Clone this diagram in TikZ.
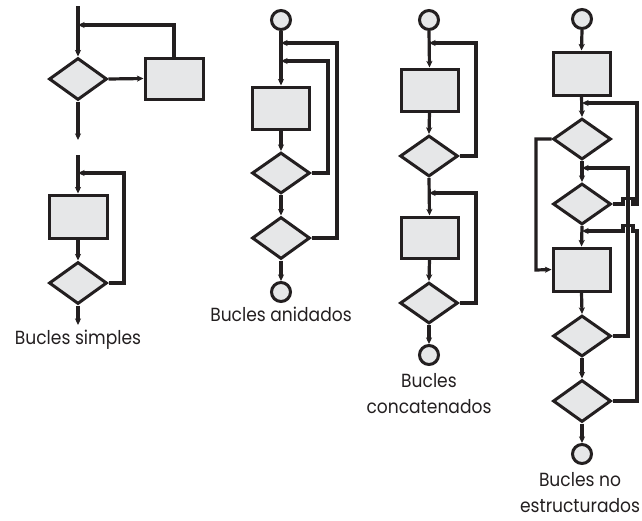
\documentclass[tikz,border=0pt]{standalone}
\usepackage{fontspec}
\setmainfont[FakeStretch=0.9]{Poppins}
\usetikzlibrary{shapes.geometric,arrows.meta}
\definecolor{ink}{HTML}{231F20}
\definecolor{boxfill}{HTML}{E6E7E8}
\begin{document}
\begin{tikzpicture}[x=1pt,y=-1pt,
  stepbox/.style={draw=ink,fill=boxfill,line width=3pt,rectangle,minimum width=57pt,minimum height=42pt,inner sep=0pt},
  decision/.style={draw=ink,fill=boxfill,line width=3pt,diamond,minimum width=58pt,minimum height=42pt,inner sep=0pt},
  term/.style={draw=ink,fill=boxfill,line width=3pt,circle,minimum size=19pt,inner sep=0pt},
  conn/.style={draw=ink,line width=3.2pt},
  arr/.style={conn,-{Stealth[length=6.5pt,width=6pt,inset=1.5pt]}},
  lbl/.style={font=\fontsize{19}{26}\selectfont,text=ink,align=center,inner sep=0pt}]
\useasboundingbox (0,0) rectangle (642,520);
% ---- Bucles simples (top)
\coordinate (t1) at (78,6);
\coordinate (j1) at (78,25);
\node[decision] (d1) at (78,79) {};
\node[stepbox,minimum width=58pt,minimum height=41pt] (b1) at (174,78.5) {};
\coordinate (e1) at (78,140);
\draw[arr] (t1) -- (d1.north);
\draw[arr] (b1.north) |- (j1);
\draw[arr] (d1.east) -- (b1.west);
\draw[arr] (d1.south) -- (e1);
% ---- Bucles simples (bottom)
\coordinate (t2) at (78,155);
\coordinate (j2) at (78,173);
\node[stepbox,minimum width=58pt,minimum height=43pt] (b2) at (78,216.5) {};
\node[decision] (d2) at (78,283) {};
\coordinate (r2) at (124,173);
\coordinate (e2) at (78,325);
\draw[arr] (t2) -- (b2.north);
\draw[arr] (b2.south) -- (d2.north);
\draw[arr] (d2.east) -| (r2) -- (j2);
\draw[arr] (d2.south) -- (e2);
\node[lbl] (l1) at (78,340) {Bucles simples};
% ---- Bucles anidados
\node[term] (c1) at (281,20) {};
\coordinate (ja) at (281,43);
\coordinate (jb) at (281,61);
\node[stepbox] (b3) at (281,108) {};
\node[decision,minimum height=41pt] (d3) at (281,173) {};
\node[decision] (d4) at (281,238) {};
\node[term] (c2) at (281,292) {};
\coordinate (ra) at (337,43);
\coordinate (rb) at (328,61);
\draw[arr] (c1.south) -- (b3.north);
\draw[arr] (b3.south) -- (d3.north);
\draw[arr] (d3.south) -- (d4.north);
\draw[arr] (d4.south) -- (c2.north);
\draw[arr] (d3.east) -| (rb) -- (jb);
\draw[arr] (d4.east) -| (ra) -- (ja);
\node[lbl] (l2) at (281,314) {Bucles anidados};
% ---- Bucles concatenados
\node[term] (c3) at (429,20) {};
\coordinate (ka) at (429,43);
\node[stepbox] (b4) at (429.5,90) {};
\node[decision,minimum height=41pt] (d5) at (429,156) {};
\coordinate (kb) at (429,193);
\node[stepbox,minimum height=41pt] (b5) at (429.5,237.5) {};
\node[decision,minimum height=41pt] (d6) at (429,303) {};
\node[term] (c4) at (429,355) {};
\coordinate (sa) at (476,43);
\coordinate (sb) at (476,193);
\draw[arr] (c3.south) -- (b4.north);
\draw[arr] (b4.south) -- (d5.north);
\draw[arr] (d5.south) -- (b5.north);
\draw[arr] (b5.south) -- (d6.north);
\draw[arr] (d6.south) -- (c4.north);
\draw[arr] (d5.east) -| (sa) -- (ka);
\draw[arr] (d6.east) -| (sb) -- (kb);
\node[lbl] (l3) at (429,394) {Bucles\\concatenados};
% ---- Bucles no estructurados
\node[term] (c5) at (582,19) {};
\node[stepbox,minimum height=43pt] (b6) at (581.5,73.5) {};
\coordinate (ma) at (582,103);
\node[decision,minimum height=41pt] (d7) at (582,139) {};
\coordinate (mb) at (582,168);
\node[decision,minimum height=41pt] (d8) at (582,204) {};
\coordinate (mc) at (582,231);
\node[stepbox,minimum height=43pt] (b7) at (581.5,269.5) {};
\node[decision,minimum height=41pt] (d9) at (582,336) {};
\node[decision] (d10) at (582,401) {};
\node[term] (c6) at (582,454) {};
\draw[arr] (c5.south) -- (b6.north);
\draw[arr] (b6.south) -- (d7.north);
\draw[arr] (d7.south) -- (d8.north);
\draw[arr] (d8.south) -- (b7.north);
\draw[arr] (b7.south) -- (d9.north);
\draw[arr] (d9.south) -- (d10.north);
\draw[arr] (d10.south) -- (c6.north);
% left loop
\coordinate (la) at (536,270);
\draw[arr] (d7.west) -| (la) -- (b7.west);
% d9 back to before d8
\coordinate (pb) at (628,168);
\draw[arr] (d9.east) -| (pb) -- (mb);
% d8 back to before d7 (with hop)
\coordinate (h1) at (623,204);
\coordinate (h2) at (623,198.5);
\coordinate (h3) at (633,198.5);
\coordinate (h4) at (633,204);
\coordinate (pa) at (637,103);
\draw[arr] (d8.east) -- (h1) -- (h2) -- (h3) -- (h4) -| (pa) -- (ma);
% d10 back to before b7 (with hop)
\coordinate (g1) at (637,231);
\coordinate (g2) at (633,231);
\coordinate (g3) at (633,225.5);
\coordinate (g4) at (623,225.5);
\coordinate (g5) at (623,231);
\draw[arr] (d10.east) -| (g1) -- (g2) -- (g3) -- (g4) -- (g5) -- (mc);
\node[lbl] (l4) at (580,493) {Bucles no\\estructurados};
\end{tikzpicture}
\end{document}
